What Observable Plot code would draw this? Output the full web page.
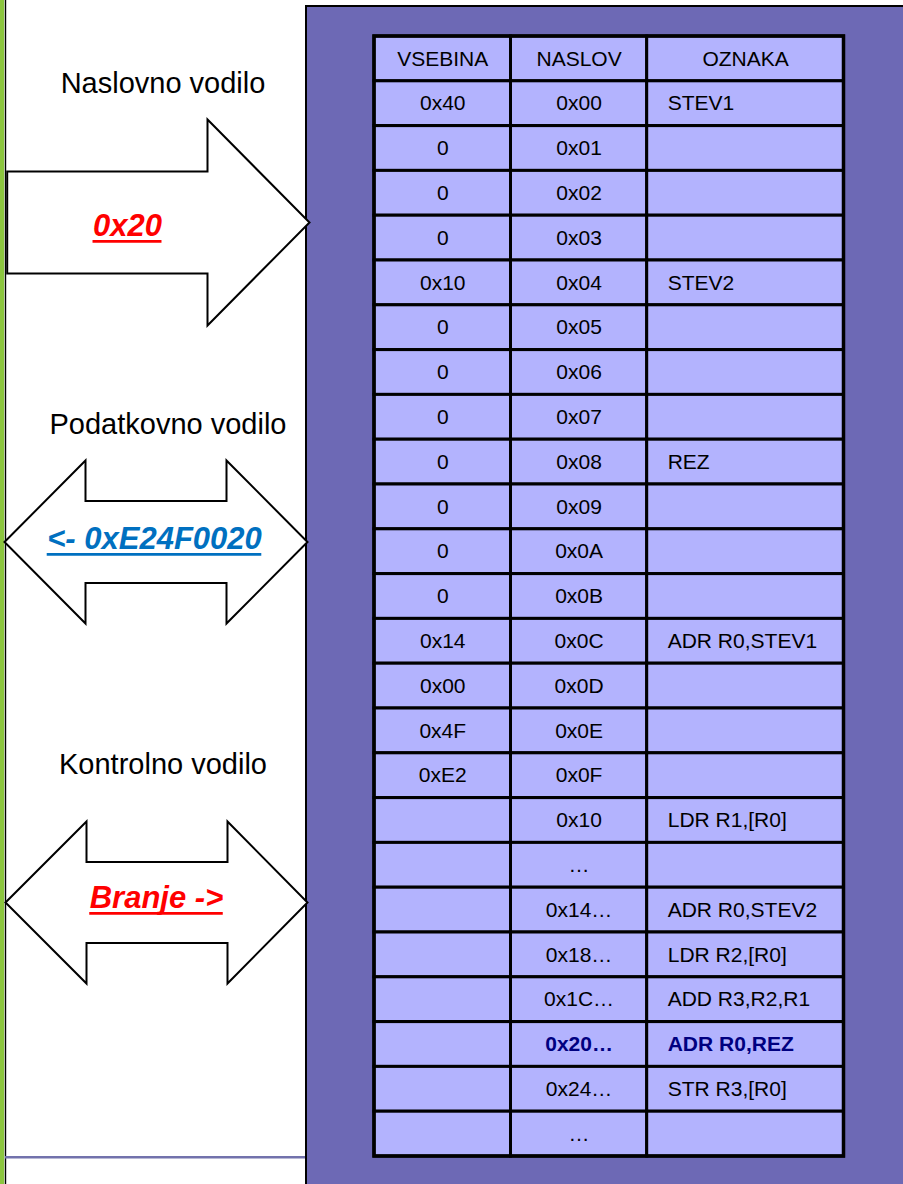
<!DOCTYPE html>
<html><head><meta charset="utf-8">
<script src="https://cdn.jsdelivr.net/npm/d3@7"></script>
<script src="https://cdn.jsdelivr.net/npm/@observablehq/plot@0.6"></script>
<style>
html,body{margin:0;padding:0;background:#fff;overflow:hidden;}
#chart svg{display:block;overflow:hidden;}
</style>
</head><body><div id="chart"></div>
<script>
// ---------- data ----------
const columns = ["VSEBINA", "NASLOV", "OZNAKA"];
const vsebina = ["0x40","0","0","0","0x10","0","0","0","0","0","0","0","0x14","0x00","0x4F","0xE2","","","","","","","",""];
const naslov = ["0x00","0x01","0x02","0x03","0x04","0x05","0x06","0x07","0x08","0x09","0x0A","0x0B","0x0C","0x0D","0x0E","0x0F","0x10","…","0x14…","0x18…","0x1C…","0x20…","0x24…","…"];
const oznaka = ["STEV1","","","","STEV2","","","","REZ","","","","ADR R0,STEV1","","","","LDR R1,[R0]","","ADR R0,STEV2","LDR R2,[R0]","ADD R3,R2,R1","ADR R0,REZ","STR R3,[R0]",""];
const highlightAddress = "0x20…";
const boldDotAddresses = ["0x18…","0x1C…","0x24…"];
const busNames = ["Naslovno vodilo", "Podatkovno vodilo", "Kontrolno vodilo"];
const busValues = ["0x20", "<- 0xE24F0020", "Branje ->"];
const busKinds = ["single", "double", "double"];

// ---------- layout & style ----------
const W = 903, H = 1184;
const FONT = "'Liberation Sans', Arial, Helvetica, sans-serif";
const C = {green: "#8cc63f", purple: "#6d69b5", cell: "#b3b3fe", navy: "#000080", line: "#7272ac"};
const valueColors = ["#ff0000", "#0070c0", "#ff0000"];
const VALUE_SIZE = 31;
const L = {
  greenX2: 4.2, leftBorderX: 5,
  panelX: 306, panelY: 6,
  bottomRuleY: 1156.7,
  colEdges: [374, 510.5, 646.7, 843.5],
  tableTop: 36, rowH: 44.8,
  labelPad: 20.5,
  titleX: [162.5, 167.5, 162.5], titleBase: [92, 433, 773],
  valueX: [127, 154, 156], valueBase: [235, 548, 907],
  underlineGap: 0.19, // in em below baseline
  arrows: [
    {left: 6.7, headL: null, headR: 207, right: 309, cy: 222, shaftHalf: 51, headHalf: 103},
    {left: 4, headL: 85, headR: 226, right: 307, cy: 541.5, shaftHalf: 41, headHalf: 81.5},
    {left: 5, headL: 86, headR: 227, right: 307, cy: 902, shaftHalf: 40.5, headHalf: 81}
  ]
};

// arrow outlines built from the layout parameters
const arrowPts = [];
L.arrows.forEach((a, k) => {
  const t = a.cy - a.shaftHalf, b = a.cy + a.shaftHalf, ht = a.cy - a.headHalf, hb = a.cy + a.headHalf;
  let pts;
  if (busKinds[k] === "single") {
    pts = [[a.left,t],[a.headR,t],[a.headR,ht],[a.right,a.cy],[a.headR,hb],[a.headR,b],[a.left,b]];
  } else {
    pts = [[a.left,a.cy],[a.headL,ht],[a.headL,t],[a.headR,t],[a.headR,ht],[a.right,a.cy],[a.headR,hb],[a.headR,b],[a.headL,b],[a.headL,hb]];
  }
  pts.forEach(([x, y]) => arrowPts.push({bus: busNames[k], x, y}));
});

// underline extents measured from the font
const ctx = document.createElement("canvas").getContext("2d");
ctx.font = `italic bold ${VALUE_SIZE}px ${FONT}`;
const underlines = busValues.map((v, i) => {
  const w = ctx.measureText(v).width;
  return {i, x1: L.valueX[i] - w / 2, x2: L.valueX[i] + w / 2, y: L.valueBase[i] + L.underlineGap * VALUE_SIZE};
});

// table
const rowTop = i => L.tableTop + L.rowH * i;
const colMid = j => (L.colEdges[j] + L.colEdges[j + 1]) / 2;
const rows = naslov.map((n, i) => ({i, vsebina: vsebina[i], naslov: n, oznaka: oznaka[i], hl: n === highlightAddress}));
const cells = [];
columns.forEach((c, j) => cells.push({j, r: 0}));
rows.forEach(r => columns.forEach((c, j) => cells.push({j, r: r.i + 1})));
const header = columns.map((c, j) => ({c, j}));

const textBase = {fontFamily: FONT, fontSize: 21, fill: "black"};

const chart = Plot.plot({
  width: W, height: H,
  margin: 0,
  x: {domain: [0, W], range: [0, W], axis: null},
  y: {domain: [0, H], range: [0, H], axis: null},
  style: {fontFamily: FONT, background: "white", overflow: "hidden"},
  marks: [
    // left green strip and border
    Plot.rect([0], {x1: 0, x2: L.greenX2, y1: 0, y2: H, fill: C.green}),
    Plot.ruleX([L.leftBorderX], {y1: 0, y2: H, stroke: "black", strokeWidth: 1.4}),
    Plot.ruleY([L.bottomRuleY], {x1: L.leftBorderX, x2: L.panelX, stroke: C.line, strokeWidth: 2.6}),
    // purple memory panel
    Plot.rect([0], {x1: L.panelX, x2: W + 10, y1: L.panelY, y2: H + 10, fill: C.purple, stroke: "black", strokeWidth: 2}),
    // bus arrows
    Plot.line(arrowPts, {x: "x", y: "y", z: "bus", curve: "linear-closed", fill: "white", stroke: "black", strokeWidth: 2, strokeLinejoin: "miter", strokeMiterlimit: 10, strokeLinecap: "butt"}),
    // bus titles
    Plot.text(busNames, {x: (d, i) => L.titleX[i], y: (d, i) => L.titleBase[i], text: d => d, lineAnchor: "bottom", textAnchor: "middle", fontFamily: FONT, fontSize: 29, fill: "black"}),
    // bus values (bold italic, underlined)
    ...busValues.map((v, i) => Plot.text([v], {x: () => L.valueX[i], y: () => L.valueBase[i], text: d => d, lineAnchor: "bottom", textAnchor: "middle", fontFamily: FONT, fontSize: VALUE_SIZE, fontWeight: "bold", fontStyle: "italic", fill: valueColors[i]})),
    ...underlines.map(u => Plot.ruleY([u], {y: "y", x1: "x1", x2: "x2", stroke: valueColors[u.i], strokeWidth: 2.8})),
    // table cells
    Plot.rect(cells, {x1: d => L.colEdges[d.j], x2: d => L.colEdges[d.j + 1], y1: d => rowTop(d.r), y2: d => rowTop(d.r + 1), fill: C.cell, stroke: "black", strokeWidth: 3}),
    Plot.rect([0], {x1: L.colEdges[0], x2: L.colEdges[3], y1: rowTop(0), y2: rowTop(rows.length + 1), fill: "none", stroke: "black", strokeWidth: 3.5}),
    // header
    Plot.text(header, {x: d => colMid(d.j), y: d => rowTop(0) + L.rowH / 2, text: "c", textAnchor: "middle", ...textBase}),
    // VSEBINA
    Plot.text(rows.filter(r => r.vsebina), {x: () => colMid(0), y: d => rowTop(d.i + 1) + L.rowH / 2, text: "vsebina", textAnchor: "middle", ...textBase}),
    // NASLOV
    Plot.text(rows.filter(r => !r.hl), {x: () => colMid(1), y: d => rowTop(d.i + 1) + L.rowH / 2, text: "naslov", textAnchor: "middle", ...textBase, ariaLabel: "naslov"}),
    Plot.text(rows.filter(r => r.hl), {x: () => colMid(1), y: d => rowTop(d.i + 1) + L.rowH / 2, text: "naslov", textAnchor: "middle", ...textBase, fill: C.navy, fontWeight: "bold"}),
    // OZNAKA
    Plot.text(rows.filter(r => r.oznaka && !r.hl), {x: () => L.colEdges[2] + L.labelPad, y: d => rowTop(d.i + 1) + L.rowH / 2, text: "oznaka", textAnchor: "start", ...textBase}),
    Plot.text(rows.filter(r => r.oznaka && r.hl), {x: () => L.colEdges[2] + L.labelPad, y: d => rowTop(d.i + 1) + L.rowH / 2, text: "oznaka", textAnchor: "start", ...textBase, fill: C.navy, fontWeight: "bold"})
  ]
});

document.getElementById("chart").appendChild(chart);
const svg = d3.select(chart);
// bold dots after some addresses
svg.selectAll('g[aria-label="naslov"] text').each(function () {
  const t = this.textContent;
  if (boldDotAddresses.includes(t)) {
    const sel = d3.select(this);
    sel.text(t.slice(0, -1));
    sel.append("tspan").attr("font-weight", "bold").text("…");
  }
});
</script>
</body></html>
